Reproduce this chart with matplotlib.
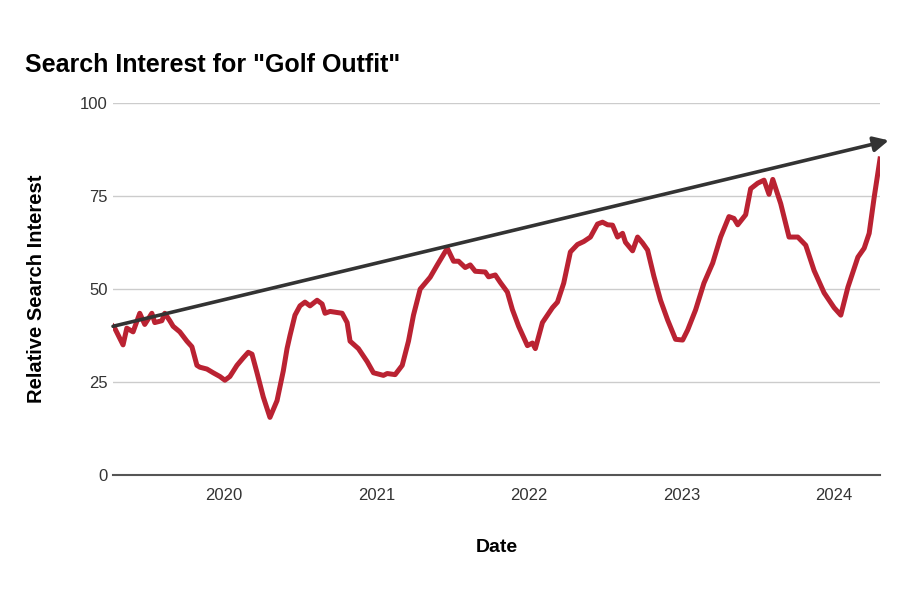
import matplotlib
matplotlib.use("Agg")
import matplotlib.pyplot as plt
import matplotlib.dates as mdates
import pandas as pd

plt.rcParams["font.family"] = ["Liberation Sans", "DejaVu Sans"]

# values
dates = [
    "2019-04-10", "2019-04-14", "2019-05-04", "2019-05-13", "2019-05-28",
    "2019-06-13", "2019-06-25", "2019-07-12", "2019-07-19", "2019-08-05",
    "2019-08-12", "2019-08-24", "2019-09-01", "2019-09-17", "2019-10-04",
    "2019-10-16", "2019-10-28", "2019-11-04", "2019-11-21", "2019-12-06",
    "2019-12-22", "2020-01-03", "2020-01-15", "2020-02-01", "2020-02-16",
    "2020-02-28", "2020-03-08", "2020-03-20", "2020-04-04", "2020-04-20",
    "2020-05-07", "2020-05-22", "2020-05-31", "2020-06-07", "2020-06-19",
    "2020-07-01", "2020-07-13", "2020-07-25", "2020-08-11", "2020-08-23",
    "2020-08-30", "2020-09-11", "2020-10-10", "2020-10-22", "2020-10-29",
    "2020-11-18", "2020-12-09", "2020-12-24", "2021-01-17", "2021-01-26",
    "2021-02-14", "2021-03-03", "2021-03-18", "2021-03-30", "2021-04-15",
    "2021-05-09", "2021-05-26", "2021-06-19", "2021-07-04", "2021-07-16",
    "2021-08-01", "2021-08-13", "2021-08-25", "2021-09-18", "2021-09-26",
    "2021-10-12", "2021-10-24", "2021-11-10", "2021-11-22", "2021-12-07",
    "2021-12-28", "2022-01-09", "2022-01-16", "2022-02-02", "2022-02-26",
    "2022-03-10", "2022-03-25", "2022-04-10", "2022-04-27", "2022-05-12",
    "2022-05-28", "2022-06-14", "2022-06-26", "2022-07-08", "2022-07-20",
    "2022-08-01", "2022-08-13", "2022-08-20", "2022-09-06", "2022-09-18",
    "2022-09-30", "2022-10-12", "2022-10-27", "2022-11-12", "2022-11-29",
    "2022-12-18", "2023-01-04", "2023-01-16", "2023-02-04", "2023-02-24",
    "2023-03-17", "2023-04-05", "2023-04-25", "2023-05-07", "2023-05-16",
    "2023-06-04", "2023-06-16", "2023-07-03", "2023-07-18", "2023-07-30",
    "2023-08-08", "2023-08-27", "2023-09-16", "2023-10-07", "2023-10-26",
    "2023-11-15", "2023-12-09", "2024-01-02", "2024-01-18", "2024-02-04",
    "2024-02-28", "2024-03-14", "2024-03-26", "2024-04-07", "2024-04-21",
]
interest = [
    40, 39.5, 35, 39.5, 38.5,
    43.5, 40.5, 43.5, 41, 41.5,
    43.5, 41.5, 40, 38.5, 36,
    34.5, 29.5, 29, 28.5, 27.5,
    26.5, 25.5, 26.5, 29.5, 31.5,
    33, 32.5, 27.5, 21, 15.5,
    20, 28, 34, 37.5, 43,
    45.5, 46.5, 45.5, 47, 46,
    43.5, 44, 43.5, 41, 36,
    34, 30.5, 27.5, 26.8, 27.3,
    27, 29.5, 36, 43, 50,
    53.2, 56.5, 61, 57.5, 57.5,
    55.8, 56.5, 54.8, 54.6, 53.3,
    53.8, 51.8, 49.2, 44.5, 40,
    34.8, 35.5, 34, 41, 45,
    46.5, 51.6, 60, 62, 62.8,
    64, 67.5, 68, 67.3, 67.2,
    64, 65, 62.6, 60.3, 64,
    62.4, 60.5, 53.5, 47, 41.7,
    36.5, 36.3, 39, 44.4, 51.6,
    57, 64, 69.5, 69, 67.3,
    70, 77, 78.5, 79.3, 75.5,
    79.5, 73, 64, 64, 61.8,
    55, 49, 45, 43, 50.5,
    58.6, 61, 65, 74.7, 85,
]

trend_start = ("2019-04-10", 40)
trend_end = ("2024-05-12", 90)

dt = pd.to_datetime(dates)

fig = plt.figure(figsize=(9, 6), dpi=100)
ax = fig.add_axes([0.1256, 0.2083, 0.8522, 0.6197])

ax.plot(dt, interest, color="#BA2232", linewidth=3.6, solid_joinstyle="round", zorder=3)

ax.annotate(
    "",
    xy=(pd.Timestamp(trend_end[0]), trend_end[1]),
    xytext=(pd.Timestamp(trend_start[0]), trend_start[1]),
    arrowprops=dict(arrowstyle="-|>,head_length=0.9,head_width=0.45",
                    color="#333333", lw=2.6, shrinkA=0, shrinkB=0),
    annotation_clip=False,
    zorder=4,
)

ax.set_ylim(0, 100)
ax.set_yticks([0, 25, 50, 75, 100])
ax.set_xlim(dt[0], dt[-1])
ax.xaxis.set_major_locator(mdates.YearLocator())
ax.xaxis.set_major_formatter(mdates.DateFormatter("%Y"))

ax.grid(axis="y", color="#cccccc", linewidth=1)
ax.set_axisbelow(True)
for s in ["top", "right", "left"]:
    ax.spines[s].set_visible(False)
ax.spines["bottom"].set_color("#555555")
ax.spines["bottom"].set_linewidth(1.5)
ax.tick_params(length=0, labelsize=12, labelcolor="#333333")
ax.tick_params(axis="y", pad=4)
ax.tick_params(axis="x", pad=9)

ax.set_xlabel("Date", fontsize=14, fontweight="bold", labelpad=26)
ax.set_ylabel("Relative Search Interest", fontsize=14.5, fontweight="bold", labelpad=24)

fig.text(0.028, 0.88, 'Search Interest for "Golf Outfit"', fontsize=18,
         fontweight="bold", ha="left", va="baseline")

fig.savefig("out.png", dpi=100)
